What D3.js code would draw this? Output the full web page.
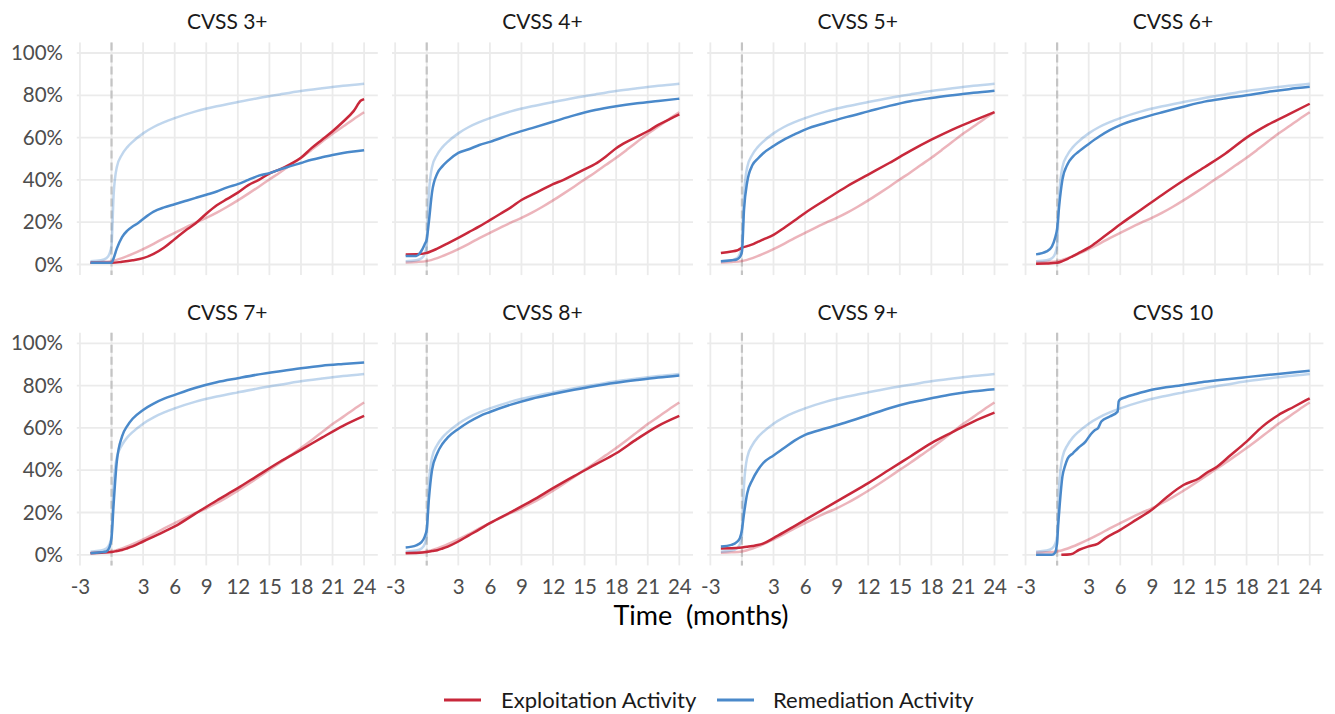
<!DOCTYPE html>
<html>
<head>
<meta charset="utf-8">
<script src="https://cdn.jsdelivr.net/npm/d3@7"></script>
<style>
body { margin: 0; background: #fff; }
text { font-family: Lato, "Noto Sans", sans-serif; }
</style>
</head>
<body>
<div id="chart"></div>
<script>
// panel titles and tick labels
const panelTitles = ["CVSS 3+", "CVSS 4+", "CVSS 5+", "CVSS 6+", "CVSS 7+", "CVSS 8+", "CVSS 9+", "CVSS 10"];
const xTicks = [-3, 3, 6, 9, 12, 15, 18, 21, 24];
const xGrid = [-3, 0, 3, 6, 9, 12, 15, 18, 21, 24];
const yTicks = [0, 20, 40, 60, 80, 100];
const seriesNames = ["Exploitation Activity", "Remediation Activity"];

// reference curves for all CVEs (shown faded in every panel): [month, percent]
const allExploit = [[-2,1],[-1,1.2],[0,1.6],[1,3],[2,5],[3,7.3],[4,9.8],[5,12.5],[6,15],[7,17.5],[8,19.8],[9,22],[10,24.5],[11,27.3],[12,30.3],[13,33.5],[14,36.8],[15,40.2],[16,43.5],[17,47],[18,50.5],[19,54.2],[20,58],[21,61.8],[22,65.2],[23,68.7],[24,72]];
const allRemed = [[-2,1.5],[-1,2],[-0.5,3],[-0.2,5],[0,9],[0.2,33],[0.5,46],[1,52],[1.5,55.5],[2,58],[3,62],[4,65],[5,67.3],[6,69.2],[8,72.4],[10,74.8],[12,76.8],[14,78.7],[16,80.4],[18,82],[20,83.3],[22,84.5],[24,85.5]];

// per panel curves
const exploit3 = [[-2,0.8],[0,0.8],[1,1.3],[2,2],[3,3],[4,5],[5,8],[6,12],[7,16],[8,19.5],[9,24],[10,28],[11,31],[12,34],[13,37.5],[14,40],[15,43],[16,45],[17,47.5],[18,50.5],[19,55],[20,59],[21,63],[22,67.5],[23,72.5],[23.7,77.5],[24,78.2]];
const remed3 = [[-2,0.8],[0,0.8],[0.2,3],[0.5,7.5],[1,13],[1.5,16],[2,18],[2.5,19.5],[3,21.5],[4,25],[5,27],[6,28.5],[7,30],[8,31.5],[9,33],[10,34.5],[11,36.5],[12,38],[13,40],[14,42],[15,43.2],[16,45],[17,46.5],[18,48],[19,49.5],[20,50.7],[21,51.8],[22,52.7],[23,53.4],[24,54]];

const exploit4 = [[-2,4.7],[-1,4.8],[0,5.5],[1,7.5],[2,10],[3,12.6],[4,15.3],[5,18],[6,21],[7,24],[8,27],[9,30.5],[10,33],[11,35.5],[12,38],[13,40],[14,42.5],[15,45],[16,47.5],[17,51],[18,55],[19,58],[20,60.5],[21,63],[22,66],[23,68.5],[24,71]];
const remed4 = [[-2,4],[-1,4],[-0.5,6.5],[-0.2,9.5],[0,12],[0.2,20],[0.5,34],[1,43],[1.5,46.5],[2,49],[3,52.8],[4,54.5],[5,56.5],[6,58],[8,61.5],[10,64.5],[12,67.5],[14,70.5],[16,73],[18,74.8],[20,76.2],[22,77.3],[24,78.4]];

const exploit5 = [[-2,5.5],[-1,6.2],[-0.5,6.6],[0,7.9],[0.5,8.7],[1,9.5],[1.5,10.7],[2,11.8],[3,14],[4,17.3],[5,20.8],[6,24.4],[8,30.8],[10,37],[12,42.5],[14,48],[16,53.7],[18,59],[20,63.8],[22,68],[24,72]];
const remed5 = [[-2,1.6],[-1,2],[-0.5,2.4],[-0.2,3.5],[0,6],[0.2,26],[0.5,39],[1,47],[1.5,50],[2,52.5],[3,56],[4,59],[5,61.5],[6,63.8],[8,67],[10,69.8],[12,72.4],[14,75],[16,77.2],[18,78.7],[20,80],[22,81.2],[24,82.2]];

const exploit6 = [[-2,0.4],[-1,0.5],[0,0.8],[0.5,1.6],[1,2.7],[1.5,4],[2,5.3],[3,8],[4,11.5],[5,15.2],[6,19],[8,26],[10,33],[12,39.7],[14,46],[16,52.5],[18,60],[20,66],[22,71],[24,76]];
const remed6 = [[-2,4.8],[-1,6.2],[-0.5,8.5],[-0.2,12.5],[0,17],[0.2,28],[0.5,40],[1,47.5],[1.5,51],[2,53.2],[3,57],[4,60.5],[5,63.5],[6,65.9],[8,69.2],[10,72],[12,74.6],[14,77],[16,78.6],[18,80],[20,81.6],[22,82.9],[24,84]];

const exploit7 = [[-2,0.8],[-1,1],[0,1.3],[0.5,1.8],[1,2.3],[1.5,3.1],[2,4],[3,6.3],[4,8.6],[5,11],[6,13.4],[8,19.6],[10,25.7],[12,31.5],[14,37.8],[16,44],[18,49.6],[20,55.4],[22,61],[24,65.7]];
const remed7 = [[-2,0.8],[-1,1.2],[-0.5,1.6],[-0.2,3.5],[0,8],[0.2,24],[0.5,44],[1,56],[1.5,61],[2,64.3],[3,68.5],[4,71.5],[5,73.8],[6,75.6],[8,79],[10,81.6],[12,83.5],[14,85.3],[16,86.8],[18,88.2],[20,89.4],[22,90.2],[24,90.9]];

const exploit8 = [[-2,0.8],[-1,0.9],[0,1.3],[0.5,1.8],[1,2.2],[1.5,3],[2,3.9],[3,6.3],[4,9.2],[5,12],[6,15],[8,20.2],[10,25.6],[12,31.5],[14,37.2],[16,42.6],[18,48],[20,54.8],[22,61],[24,65.7]];
const remed8 = [[-2,3.5],[-1,4.5],[-0.5,6],[-0.2,8.5],[0,12],[0.2,26],[0.5,40],[1,48],[1.5,52.5],[2,55.5],[3,59.5],[4,62.8],[5,65.5],[6,67.5],[8,71],[10,73.8],[12,76],[14,78],[16,79.8],[18,81.3],[20,82.6],[22,83.8],[24,84.8]];

const exploit9 = [[-2,3],[-1,3.1],[0,3.5],[0.5,3.8],[1,4.2],[1.5,4.6],[2,5.3],[3,7.9],[4,10.7],[5,13.6],[6,16.5],[8,22.3],[10,28.1],[12,33.9],[14,40.2],[16,46.5],[18,52.8],[20,58],[22,63],[24,67.2]];
const remed9 = [[-2,3.9],[-1,4.7],[-0.5,6],[-0.2,7.9],[0,11.8],[0.2,19.5],[0.5,29],[1,35.5],[1.5,40],[2,43.3],[3,47],[4,50.5],[5,54],[6,56.7],[8,59.8],[10,62.8],[12,66],[14,69.3],[16,72],[18,74],[20,75.9],[22,77.3],[24,78.3]];

const exploit10 = [[0.4,0],[1.3,0.3],[2.1,2.4],[3,4],[3.85,5.2],[4.6,7.9],[6,11.8],[7.5,16.5],[9,21.3],[10.5,27.6],[12,33],[13.5,36.2],[14.4,39.4],[15,41],[16.5,47.2],[18,53.5],[19.5,60.6],[21,66],[22.5,70],[24,74]];
const remed10 = [[-2,0],[-1,0],[-0.5,0],[-0.2,1],[0,6],[0.1,14],[0.25,24],[0.5,37],[0.75,42],[1,45.5],[1.5,48],[2,50.5],[2.7,53.5],[3.2,57],[3.6,59],[3.9,60],[4.2,63],[5,65.4],[5.75,67.7],[5.85,72.5],[6,73.5],[6.5,74.5],[7.5,76],[9,78],[12,80.3],[13.5,81.5],[15,82.4],[18,84],[21,85.5],[24,87]];

const exploitByPanel = [exploit3, exploit4, exploit5, exploit6, exploit7, exploit8, exploit9, exploit10];
const remedByPanel = [remed3, remed4, remed5, remed6, remed7, remed8, remed9, remed10];

drawFacets();

function drawFacets() {
	const width = 1335;
	const height = 714;
	const panelW = 301;
	const panelH = 232.7;
	const left0 = 76.8, top0 = 42.4;
	const stepX = 315.2, stepY = 290.3;
	const red = "#c8283b";
	const blue = "#4a89ca";
	const tickFont = "20.5px";

	const svg = d3.select("#chart")
		.append("svg")
		.attr("width", width)
		.attr("height", height)
		.style("background", "#fff");

	const x = d3.scaleLinear().domain([-3.3, 25.3]).range([0, panelW]);
	const y = d3.scaleLinear().domain([-5, 105]).range([panelH, 0]);

	const line = d3.line()
		.x(d => x(d[0]))
		.y(d => y(d[1]))
		.curve(d3.curveMonotoneX);

	panelTitles.forEach((title, i) => {
		const col = i % 4, row = Math.floor(i / 4);
		const g = svg.append("g")
			.attr("transform", `translate(${left0 + col * stepX}, ${top0 + row * stepY})`);

		// grid
		g.append("g").selectAll("line")
			.data(yTicks)
			.enter().append("line")
			.attr("x1", 0).attr("x2", panelW)
			.attr("y1", d => y(d)).attr("y2", d => y(d))
			.attr("stroke", "#ebebeb").attr("stroke-width", 1.8);
		g.append("g").selectAll("line")
			.data(xGrid)
			.enter().append("line")
			.attr("x1", d => x(d)).attr("x2", d => x(d))
			.attr("y1", 0).attr("y2", panelH)
			.attr("stroke", "#ebebeb").attr("stroke-width", 1.8);

		// dashed line at month 0
		g.append("line")
			.attr("x1", x(0)).attr("x2", x(0))
			.attr("y1", 0).attr("y2", panelH)
			.attr("stroke", "#c4c4c4").attr("stroke-width", 2.2)
			.attr("stroke-dasharray", "8,4");

		// strip title
		g.append("text")
			.attr("x", panelW / 2)
			.attr("y", -13)
			.attr("text-anchor", "middle")
			.style("font-size", "21px")
			.attr("fill", "#1a1a1a")
			.text(title);

		// faded reference curves
		g.append("path").attr("d", line(allExploit))
			.attr("fill", "none").attr("stroke", red).attr("stroke-opacity", 0.35).attr("stroke-width", 2.5);
		g.append("path").attr("d", line(allRemed))
			.attr("fill", "none").attr("stroke", blue).attr("stroke-opacity", 0.35).attr("stroke-width", 2.5);

		// panel curves
		g.append("path").attr("d", line(exploitByPanel[i]))
			.attr("fill", "none").attr("stroke", red).attr("stroke-width", 2.5).attr("stroke-linejoin", "round");
		g.append("path").attr("d", line(remedByPanel[i]))
			.attr("fill", "none").attr("stroke", blue).attr("stroke-width", 2.5).attr("stroke-linejoin", "round");

		if (col == 0) {
			const yAxis = d3.axisLeft(y).tickValues(yTicks).tickSize(0).tickPadding(13.8).tickFormat(d => d + "%");
			g.append("g").call(yAxis)
				.call(a => a.select(".domain").remove())
				.selectAll("text").style("font-size", tickFont).style("font-family", "Lato, 'Noto Sans', sans-serif").attr("fill", "#4d4d4d");
		}
		if (row == 1) {
			const xAxis = d3.axisBottom(x).tickValues(xTicks).tickSize(0).tickPadding(14).tickFormat(d => String(d));
			g.append("g").attr("transform", `translate(0, ${panelH})`).call(xAxis)
				.call(a => a.select(".domain").remove())
				.selectAll("text").style("font-size", tickFont).style("font-family", "Lato, 'Noto Sans', sans-serif").attr("fill", "#4d4d4d");
		}
	});

	// axis title
	svg.append("text")
		.attr("x", 701)
		.attr("y", 625)
		.attr("text-anchor", "middle")
		.style("font-size", "27px")
		.style("white-space", "pre")
		.attr("fill", "#000")
		.text("Time  (months)");

	// legend
	const legend = svg.append("g");
	const keys = [{ x: 444, tx: 501, c: red }, { x: 717, tx: 773, c: blue }];
	keys.forEach((k, i) => {
		legend.append("line")
			.attr("x1", k.x).attr("x2", k.x + 37)
			.attr("y1", 700).attr("y2", 700)
			.attr("stroke", k.c).attr("stroke-width", 2.8);
		legend.append("text")
			.attr("x", k.tx).attr("y", 708)
			.style("font-size", "22px")
			.attr("fill", "#1a1a1a")
			.text(seriesNames[i]);
	});
}
</script>
</body>
</html>
